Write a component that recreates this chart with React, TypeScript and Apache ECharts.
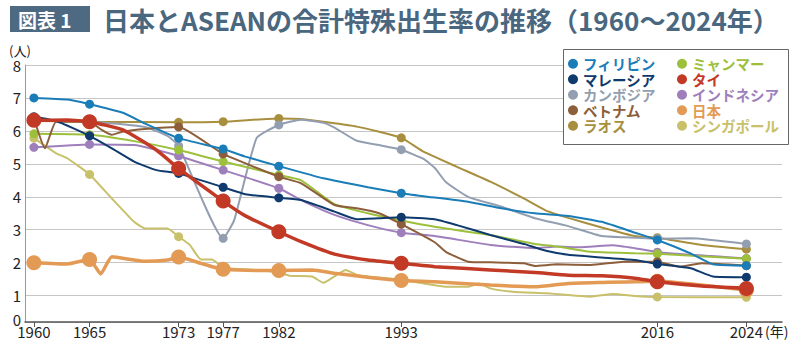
import React, { useEffect, useRef } from "react";
import * as echarts from "echarts";

const FONT = '"Noto Sans CJK JP", "Noto Sans", sans-serif';

const markerYears = [1960, 1965, 1973, 1977, 1982, 1993, 2016, 2024];
const yTickValues = [0.2, 1, 2, 3, 4, 5, 6, 7, 8];

const philippines: [number, number][] = [[1960,7.0],[1963,6.95],[1965,6.81],[1968,6.55],[1970,6.22],[1973,5.78],[1977,5.45],[1979,5.22],[1982,4.93],[1986,4.56],[1990,4.29],[1993,4.11],[1995,4.02],[1999,3.85],[2002,3.65],[2005,3.5],[2008,3.42],[2011,3.24],[2014,2.91],[2016,2.69],[2019,2.28],[2021,1.95],[2024,1.91]];
const myanmar: [number, number][] = [[1960,5.91],[1965,5.88],[1969,5.69],[1973,5.42],[1977,5.07],[1982,4.66],[1984,4.5],[1987,3.78],[1990,3.5],[1993,3.28],[1996,3.09],[2001,2.84],[2005,2.57],[2007,2.49],[2010,2.33],[2014,2.29],[2016,2.27],[2024,2.12]];
const malaysia: [number, number][] = [[1960,6.43],[1962,6.3],[1965,5.85],[1967,5.47],[1969,5.07],[1971,4.81],[1973,4.71],[1977,4.29],[1979,4.08],[1982,3.97],[1984,3.9],[1987,3.55],[1989,3.32],[1991,3.35],[1993,3.38],[1996,3.32],[1998,3.14],[2001,2.84],[2004,2.57],[2006,2.36],[2008,2.24],[2011,2.16],[2014,2.08],[2016,1.96],[2019,1.83],[2021,1.58],[2024,1.56]];
const thailand: [number, number][] = [[1960,6.32],[1963,6.33],[1965,6.28],[1968,6.03],[1971,5.42],[1973,4.86],[1977,3.87],[1979,3.42],[1982,2.94],[1984,2.64],[1987,2.26],[1990,2.08],[1993,1.98],[1996,1.88],[2001,1.78],[2005,1.7],[2008,1.62],[2011,1.6],[2014,1.53],[2016,1.42],[2020,1.29],[2024,1.22]];
const cambodia: [number, number][] = [[1960,6.35],[1965,6.28],[1970,6.12],[1972,5.85],[1973,5.54],[1977,2.74],[1978,3.3],[1980,5.78],[1982,6.18],[1984,6.34],[1986,6.25],[1987,6.1],[1989,5.7],[1991,5.57],[1993,5.43],[1995,5.15],[1996,4.88],[1997,4.45],[1999,4.0],[2002,3.7],[2005,3.35],[2008,3.11],[2011,2.81],[2013,2.77],[2016,2.73],[2019,2.74],[2024,2.57]];
const indonesia: [number, number][] = [[1960,5.5],[1965,5.59],[1969,5.57],[1973,5.24],[1977,4.81],[1982,4.26],[1984,3.9],[1987,3.45],[1990,3.14],[1993,2.91],[1996,2.81],[2001,2.54],[2005,2.44],[2007,2.49],[2009,2.47],[2012,2.53],[2014,2.44],[2016,2.32],[2024,2.13]];
const vietnam: [number, number][] = [[1960,6.38],[1961,5.47],[1962,6.28],[1965,6.28],[1966,6.05],[1967,5.88],[1968,5.98],[1970,6.06],[1973,6.12],[1977,5.3],[1982,4.61],[1984,4.41],[1987,3.75],[1989,3.65],[1991,3.5],[1993,3.17],[1996,2.62],[1997,2.33],[1999,2.03],[2001,2.01],[2004,1.98],[2005,1.9],[2007,1.95],[2010,1.93],[2013,2.03],[2016,2.03],[2018,1.88],[2020,1.98],[2024,1.91]];
const japan: [number, number][] = [[1960,2.0],[1963,1.96],[1965,2.1],[1966,1.66],[1967,2.18],[1970,2.04],[1972,2.08],[1973,2.17],[1975,1.98],[1976,1.88],[1977,1.8],[1982,1.76],[1985,1.78],[1987,1.68],[1990,1.56],[1993,1.46],[1996,1.42],[2001,1.32],[2005,1.27],[2008,1.37],[2011,1.4],[2016,1.44],[2024,1.17]];
const laos: [number, number][] = [[1960,6.3],[1965,6.28],[1973,6.26],[1977,6.28],[1982,6.38],[1984,6.36],[1989,6.13],[1993,5.79],[1995,5.37],[1998,4.91],[2001,4.46],[2004,3.95],[2006,3.58],[2008,3.36],[2011,3.07],[2014,2.81],[2016,2.76],[2020,2.54],[2024,2.41]];
const singapore: [number, number][] = [[1960,5.78],[1962,5.32],[1963,5.17],[1965,4.68],[1967,3.95],[1969,3.24],[1970,3.04],[1972,3.04],[1973,2.79],[1974,2.54],[1975,2.1],[1976,2.1],[1977,1.85],[1980,1.78],[1982,1.7],[1983,1.6],[1985,1.58],[1986,1.39],[1988,1.78],[1989,1.63],[1990,1.58],[1993,1.48],[1995,1.37],[1997,1.27],[1999,1.27],[2000,1.37],[2001,1.22],[2003,1.12],[2006,1.07],[2010,0.97],[2012,1.05],[2014,0.99],[2016,0.96],[2024,0.95]];

const names = ["フィリピン","ミャンマー","マレーシア","タイ","カンボジア","インドネシア","ベトナム","日本","ラオス","シンガポール"];
const colors = ["#1b7db8","#9dc03c","#0f3a6d","#c23a26","#939fb1","#9e7fbc","#8c5e3a","#e39a54","#a88f3e","#c8c06a"];
const dataSets = [philippines, myanmar, malaysia, thailand, cambodia, indonesia, vietnam, japan, laos, singapore];
const legendLeft = ["フィリピン","マレーシア","カンボジア","ベトナム","ラオス"];
const legendRight = ["ミャンマー","タイ","インドネシア","日本","シンガポール"];
const thick = ["タイ","日本"];
const drawOrder = ["シンガポール","ラオス","カンボジア","インドネシア","ミャンマー","ベトナム","マレーシア","フィリピン","日本","タイ"];

export default function App() {
  const ref = useRef<HTMLDivElement>(null);
  useEffect(() => {
    document.body.style.margin = "0";
    if (!ref.current) return;
    const chart = echarts.init(ref.current, null, { renderer: "svg" });
    const colorOf = (n: string) => colors[names.indexOf(n)];
    const series = drawOrder.map((n, idx) => {
      const i = names.indexOf(n);
      const big = thick.includes(n);
      return {
        type: "line",
        name: n,
        data: dataSets[i],
        smooth: 0.15,
        symbol: "circle",
        symbolSize: (v: number[]) => (markerYears.includes(v[0]) ? (big ? 15 : 9) : 0),
        lineStyle: { width: big ? 3.5 : 2, color: colors[i] },
        itemStyle: { color: colors[i] },
        emphasis: { disabled: true },
        z: 2 + idx * 0.1,
      };
    });
    const legendBase = {
      orient: "vertical",
      top: 56,
      padding: 0,
      itemWidth: 10,
      itemHeight: 10,
      itemGap: 0,
      icon: "circle",
      selectedMode: false,
      z: 20,
      textStyle: { fontSize: 14.5, fontWeight: "bold", fontFamily: FONT, lineHeight: 15.5 },
    };
    chart.setOption({
      animation: false,
      grid: { left: 25, right: 18, top: 65, bottom: 21 },
      xAxis: {
        type: "value",
        min: 1959.2,
        max: 2027.2,
        axisLine: { show: true, lineStyle: { color: "#555", width: 1.5 } },
        axisTick: { show: true, customValues: markerYears, length: 5, lineStyle: { color: "#555" } },
        axisLabel: { customValues: markerYears, formatter: (v: number) => String(v), fontSize: 15, color: "#222", margin: 2, fontFamily: FONT },
        splitLine: { show: false },
      },
      yAxis: {
        type: "value",
        min: 0.2,
        max: 8,
        axisLine: { show: true, lineStyle: { color: "#999" } },
        axisTick: { show: false, customValues: yTickValues },
        axisLabel: {
          customValues: yTickValues,
          formatter: (v: number) => (v < 0.5 ? "{z|0}" : String(Math.round(v))),
          rich: { z: { fontSize: 15, color: "#222", fontFamily: FONT, padding: [0, 0, 6, 0] } },
          fontSize: 15, color: "#222", margin: 4, fontFamily: FONT,
        },
        splitLine: { show: true, lineStyle: { color: "#c6c6c6", width: 1 } },
      },
      legend: [
        { ...legendBase, left: 568, data: legendLeft.map((n) => ({ name: n, textStyle: { color: colorOf(n) } })) },
        { ...legendBase, left: 677, data: legendRight.map((n) => ({ name: n, textStyle: { color: colorOf(n) } })) },
      ],
      graphic: [
        { type: "rect", z: 10, shape: { x: 10, y: 6, width: 80, height: 26 }, style: { fill: "#4d6a82" } },
        { type: "text", z: 11, x: 18, y: 19, style: { text: "図表 1", fill: "#fff", font: `bold 19px ${FONT}`, verticalAlign: "middle" } },
        { type: "text", z: 11, x: 103, y: 19, style: { text: "日本とASEANの合計特殊出生率の推移（1960～2024年）", fill: "#4a6780", font: `bold 26px ${FONT}`, verticalAlign: "middle" } },
        { type: "rect", z: 10, shape: { x: 563.5, y: 49.5, width: 225, height: 95 }, style: { fill: "#fff", stroke: "#666", lineWidth: 1 } },
        { type: "text", z: 11, x: 9, y: 50, style: { text: "(人)", fill: "#222", font: `13px ${FONT}`, verticalAlign: "middle" } },
        { type: "text", z: 11, x: 765, y: 331, style: { text: "(年)", fill: "#222", font: `14px ${FONT}`, verticalAlign: "middle" } },
      ],
      series,
    });
    return () => chart.dispose();
  }, []);
  return <div ref={ref} style={{ width: 800, height: 343 }} />;
}
